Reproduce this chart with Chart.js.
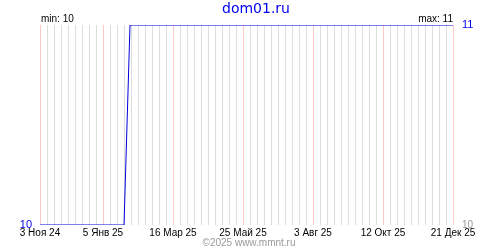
<!DOCTYPE html>
<html>
<head>
<meta charset="utf-8">
<script src="https://cdn.jsdelivr.net/npm/chart.js@4/dist/chart.umd.min.js"></script>
<style>html,body{margin:0;padding:0;background:#fff;}canvas{display:block;}</style>
</head>
<body>
<canvas id="c" width="500" height="250"></canvas>
<script>
// ---- data ----
const startDate = '2024-11-03';
const endDate = '2025-12-21';
const pointDates = ['2024-11-03', '2025-01-26', '2025-02-01', '2025-12-21'];
const pointValues = [10, 10, 11, 11];
const tickDates = ['2024-11-03', '2025-01-05', '2025-03-16', '2025-05-25', '2025-08-03', '2025-10-12', '2025-12-21'];
const tickLabels = ['3 Ноя 24', '5 Янв 25', '16 Мар 25', '25 Май 25', '3 Авг 25', '12 Окт 25', '21 Дек 25'];
const titleText = 'dom01.ru';
const minText = 'min: 10';
const maxText = 'max: 11';
const copyText = '©2025 www.mmnt.ru';
const yMin = 10, yMax = 11;

function dayOf(s) {
  const p = s.split('-').map(Number);
  const s0 = startDate.split('-').map(Number);
  return Math.round((Date.UTC(p[0], p[1]-1, p[2]) - Date.UTC(s0[0], s0[1]-1, s0[2])) / 86400000);
}
const tickDays = tickDates.map(dayOf);
const points = pointDates.map((d, i) => ({x: dayOf(d), y: pointValues[i]}));
const FONT = '"Liberation Sans", Arial, sans-serif';

const textPlugin = {
  id: 'texts',
  afterDraw(chart) {
    const ctx = chart.ctx, a = chart.chartArea;
    ctx.save();
    ctx.textBaseline = 'middle';
    ctx.fillStyle = '#0000ee';
    ctx.font = '14px "DejaVu Sans", sans-serif';
    ctx.textAlign = 'center';
    ctx.fillText(titleText, 256, 9);
    ctx.fillStyle = '#000';
    ctx.font = '10px ' + FONT;
    ctx.textAlign = 'left';
    ctx.fillText(minText, a.left + 1, 19);
    ctx.textAlign = 'right';
    ctx.fillText(maxText, a.right, 19);
    ctx.fillStyle = '#999';
    ctx.textAlign = 'center';
    ctx.fillText(copyText, 249, 243);
    ctx.restore();
  }
};

new Chart(document.getElementById('c'), {
  type: 'line',
  data: {
    datasets: [{
      data: points,
      borderColor: '#0000dd',
      borderWidth: 1,
      pointRadius: 0,
      tension: 0,
      fill: false
    }]
  },
  options: {
    responsive: false,
    animation: false,
    layout: {padding: {top: 25, left: 0, right: 0, bottom: 0}},
    plugins: {legend: {display: false}, tooltip: {enabled: false}, title: {display: false}},
    scales: {
      x: {
        type: 'linear',
        min: 0,
        max: dayOf(endDate),
        border: {display: false},
        grid: {
          drawTicks: false,
          lineWidth: 1,
          color: (c) => tickDays.includes(c.tick ? c.tick.value : -1) ? '#ffc8c8' : '#dddddd'
        },
        ticks: {
          stepSize: 7,
          autoSkip: false,
          maxRotation: 0,
          padding: 2,
          color: '#000',
          font: {family: FONT, size: 10},
          callback: (v) => { const i = tickDays.indexOf(v); return i >= 0 ? tickLabels[i] : ''; }
        },
        afterFit: (s) => { s.height = 25; }
      },
      y: {
        position: 'left',
        min: yMin,
        max: yMax,
        border: {display: false},
        grid: {display: false, drawTicks: false},
        ticks: {
          stepSize: 1,
          padding: 8,
          color: '#0000ee',
          font: {family: FONT, size: 11},
          callback: (v) => v === yMin ? String(v) : ''
        },
        afterFit: (s) => { s.width = 40; }
      },
      y2: {
        position: 'right',
        min: yMin,
        max: yMax,
        border: {display: false},
        grid: {display: false, drawTicks: false},
        ticks: {
          stepSize: 1,
          padding: 9,
          color: (c) => c.tick && c.tick.value === yMax ? '#0000ee' : '#999999',
          font: (c) => ({family: FONT, size: c.tick && c.tick.value === yMax ? 11 : 10}),
          callback: (v) => String(v)
        },
        afterFit: (s) => { s.width = 47; }
      }
    }
  },
  plugins: [textPlugin]
});
</script>
</body>
</html>
